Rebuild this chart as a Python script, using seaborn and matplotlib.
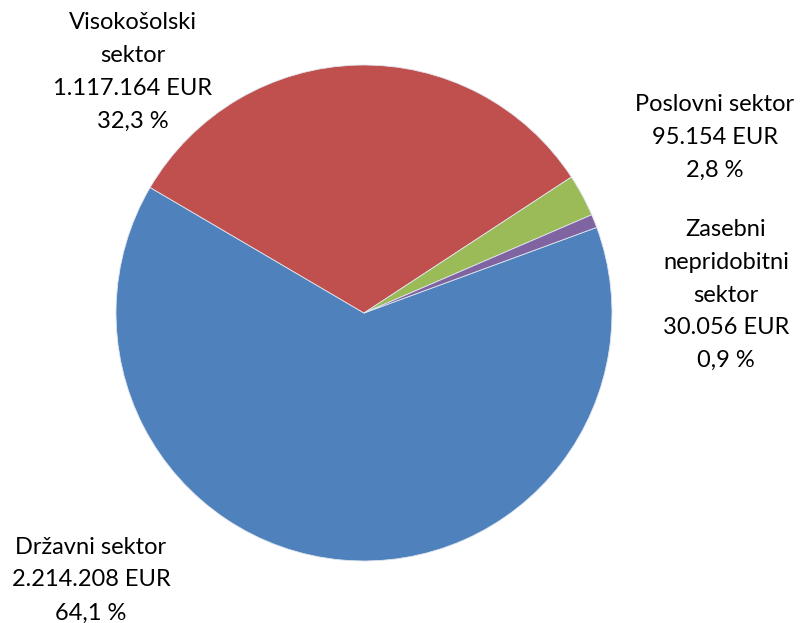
import matplotlib
matplotlib.use("Agg")
import matplotlib.pyplot as plt
import seaborn as sns

# podatki
sektorji = ["Državni sektor", "Visokošolski\nsektor", "Poslovni sektor", "Zasebni\nnepridobitni\nsektor"]
zneski = [2214208, 1117164, 95154, 30056]
zneski_txt = ["2.214.208 EUR", "1.117.164 EUR", "95.154 EUR", "30.056 EUR"]
deleži_txt = ["64,1 %", "32,3 %", "2,8 %", "0,9 %"]
barve = ["#4F81BD", "#C0504D", "#9BBB59", "#8064A2"]

sns.set_theme(style="white")
plt.rcParams['font.family'] = ['Lato', 'DejaVu Sans']

W, H = 800, 623
fig = plt.figure(figsize=(8, 6.23), dpi=100)
ax = fig.add_axes([0, 0, 1, 1])

cx, cy, r = 364, H - 313, 248
ax.pie(zneski, colors=sns.color_palette(barve), startangle=20.2, counterclock=False,
       center=(cx, cy), radius=r,
       wedgeprops=dict(edgecolor="#dfe6ee", linewidth=0.6))

# polozaji oznak (px od zgoraj)
poz = [(91, 580), (133, 72), (715, 137), (726, 295)]
for ime, z, d, (x, y) in zip(sektorji, zneski_txt, deleži_txt, poz):
    ax.text(x, H - y, f"{ime}\n{z}\n{d}", ha="center", va="center",
            fontsize=17, linespacing=1.7, color="#000000")

ax.set_xlim(0, W)
ax.set_ylim(0, H)
ax.set_aspect("equal")
ax.axis("off")

fig.savefig("out.png", dpi=100, facecolor="white")
